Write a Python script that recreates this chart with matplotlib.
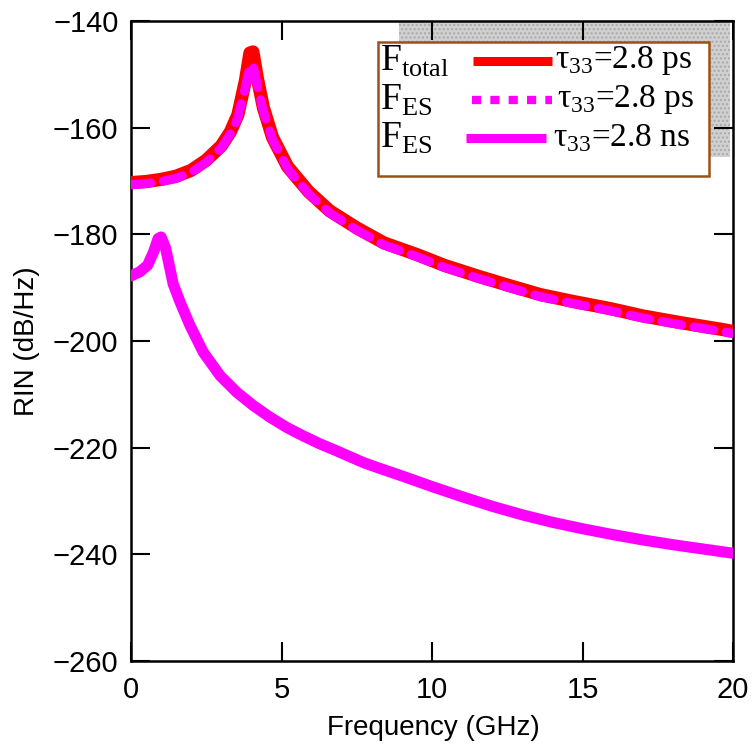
import matplotlib
matplotlib.use('Agg')
from matplotlib import pyplot as plt
from matplotlib.patches import Rectangle

##### Data #####

# F_total, tau33 = 2.8 ps
freqTotal = [0, 0.5, 1.0, 1.5, 2.0, 2.5, 3.0, 3.3, 3.55, 3.8, 3.95, 4.05, 4.2, 4.4, 4.7,
             5.2, 5.9, 6.6, 7.5, 8.4, 9.5, 10.4, 11.5, 12.5, 13.6, 14.7, 15.9, 17.0, 18.3, 19.6, 20.0]
rinTotal = [-170.3, -170.1, -169.7, -169.1, -168.0, -166.1, -163.4, -160.8, -157.6, -151.2, -146.0,
            -145.8, -150.8, -156.3, -161.8, -167.3, -172.0, -175.6, -178.8, -181.6, -183.8, -185.8,
            -187.8, -189.5, -191.3, -192.6, -193.9, -195.3, -196.6, -197.8, -198.2]

# F_ES, tau33 = 2.8 ps
freqEsPs = freqTotal
rinEsPs = [-170.7, -170.5, -170.1, -169.5, -168.4, -166.5, -163.8, -161.2, -158.2, -152.4, -148.5,
           -148.2, -152.2, -157.0, -162.2, -167.7, -172.4, -176.0, -179.2, -182.0, -184.2, -186.2,
           -188.2, -189.9, -191.7, -193.0, -194.3, -195.7, -197.0, -198.2, -198.6]

# F_ES, tau33 = 2.8 ns
freqEsNs = [0, 0.3, 0.55, 0.75, 0.9, 1.0, 1.15, 1.4, 1.63, 1.96, 2.4, 2.96, 3.51, 4.06, 4.62,
            5.17, 5.72, 6.28, 6.83, 7.72, 8.27, 9.0, 10.0, 11.0, 12.0, 13.0, 14.0, 15.0, 16.0,
            17.0, 18.0, 19.0, 20.0]
rinEsNs = [-187.8, -187.0, -185.8, -183.3, -180.8, -180.5, -182.6, -189.3, -192.7, -197.1, -202.1,
           -206.5, -209.6, -212.1, -214.3, -216.2, -217.8, -219.3, -220.6, -222.8, -223.9, -225.3,
           -227.3, -229.2, -231.0, -232.6, -234.0, -235.2, -236.3, -237.3, -238.2, -239.0, -239.8]

legendNames = [r'$\mathrm{F}_{\mathrm{total}}$', r'$\mathrm{F}_{\mathrm{ES}}$', r'$\mathrm{F}_{\mathrm{ES}}$']
legendTaus = [r'$\mathrm{τ}_{\mathrm{33}}$=2.8 ps', r'$\mathrm{τ}_{\mathrm{33}}$=2.8 ps', r'$\mathrm{τ}_{\mathrm{33}}$=2.8 ns']

##### Plot #####

plt.rcParams['font.family'] = 'Liberation Sans'
plt.rcParams['mathtext.fontset'] = 'custom'
plt.rcParams['mathtext.rm'] = 'Liberation Serif'
plt.rcParams['hatch.color'] = '#a8a8a8'
plt.rcParams['hatch.linewidth'] = 1.0

fig = plt.figure(figsize=(7.56, 7.5), dpi=100)
ax = fig.add_axes([0.1733, 0.1187, 0.7963, 0.8533])

RED = '#ff0000'
MAG = '#ff00ff'

ax.plot(freqTotal, rinTotal, color=RED, linewidth=9.5, solid_capstyle='round', solid_joinstyle='round', zorder=3)
ax.plot(freqEsPs, rinEsPs, color=MAG, linewidth=6.5, linestyle=(0, (2.2, 1.4)),
        dash_capstyle='round', dash_joinstyle='round', zorder=4)
ax.plot(freqEsNs, rinEsNs, color=MAG, linewidth=8, solid_capstyle='round', solid_joinstyle='round', zorder=3)

ax.set_xlim(0, 20)
ax.set_ylim(-260, -140)
ax.set_xticks([0, 5, 10, 15, 20])
ax.set_yticks([-260, -240, -220, -200, -180, -160, -140])

ax.tick_params(direction='in', length=14, width=1.5, top=True, right=True, labelsize=21)
ax.tick_params(axis='x', pad=11)
ax.tick_params(axis='y', pad=9)
for sp in ax.spines.values():
    sp.set_linewidth(1.8)

ax.set_xlabel('Frequency (GHz)', fontsize=20)
ax.set_ylabel('RIN (dB/Hz)', fontsize=20)
ax.xaxis.set_label_coords(0.502, -0.085)
ax.yaxis.set_label_coords(-0.152, 0.5)

# gray stippled patch behind the legend
ax.add_patch(Rectangle((0.445, 0.7875), 0.55, 0.2125, transform=ax.transAxes,
                       facecolor='#d0d0d0', edgecolor='#a8a8a8', linewidth=0, hatch='....', zorder=1))

# legend box
ax.add_patch(Rectangle((0.41, 0.758), 0.55, 0.209, transform=ax.transAxes,
                       facecolor='white', edgecolor='#9a5214', linewidth=1.8, zorder=5))

rowsY = [0.938, 0.877, 0.817]
ax.plot([0.568, 0.699], [rowsY[0], rowsY[0]], transform=ax.transAxes, color=RED,
        linewidth=6.5, solid_capstyle='butt', zorder=6)
ax.plot([0.566, 0.699], [rowsY[1], rowsY[1]], transform=ax.transAxes, color=MAG,
        linewidth=6, linestyle=(0, (1.1, 1.1)), dash_capstyle='butt', zorder=6)
ax.plot([0.557, 0.689], [rowsY[2], rowsY[2]], transform=ax.transAxes, color=MAG,
        linewidth=6.5, solid_capstyle='butt', zorder=6)

tauX = [0.704, 0.707, 0.701]
for idx in range(3):
    ax.text(0.414, rowsY[idx], legendNames[idx], transform=ax.transAxes, fontsize=27,
            va='center', ha='left', zorder=7)
    ax.text(tauX[idx], rowsY[idx], legendTaus[idx], transform=ax.transAxes, fontsize=24,
            family='Liberation Serif', va='center', ha='left', zorder=7)

plt.savefig('out.png', dpi=100)
